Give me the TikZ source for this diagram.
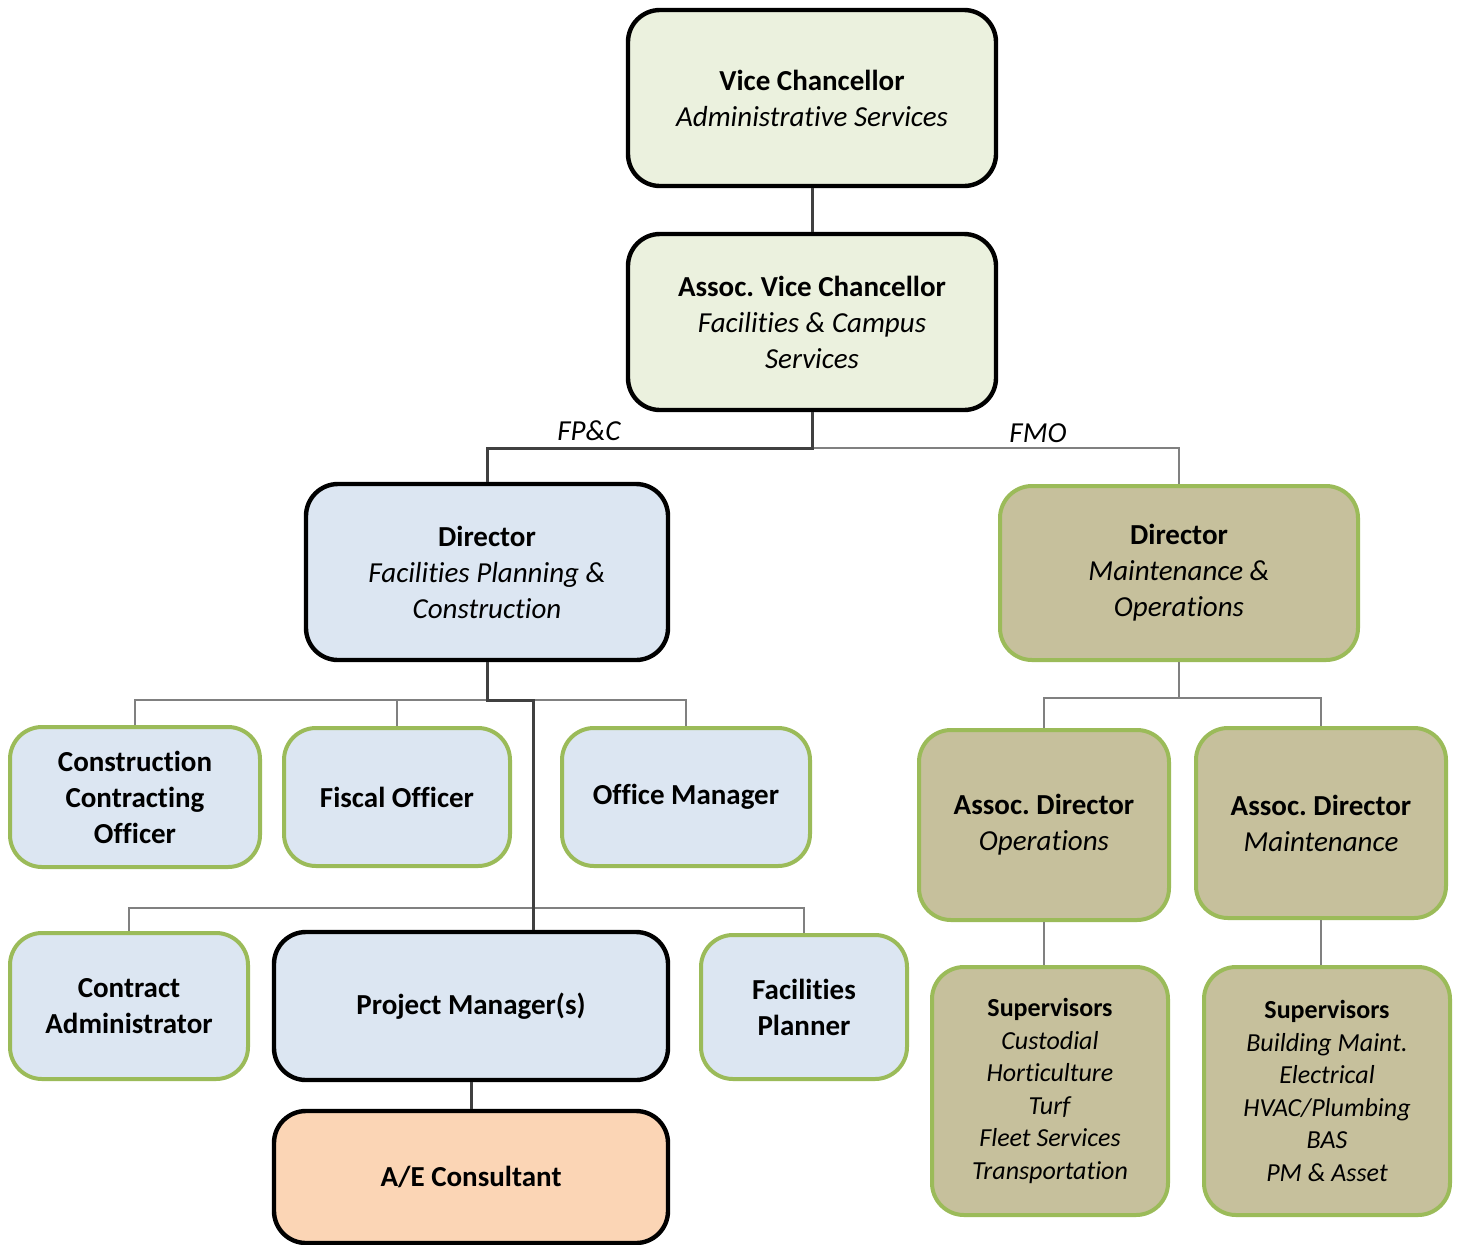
\documentclass[tikz,border=0pt]{standalone}
\usepackage{fontspec}
\setmainfont{Carlito}[RawFeature={-liga;-clig;-dlig;-calt}]
\usetikzlibrary{positioning, calc}
\frenchspacing

\definecolor{vcfill}{HTML}{EBF1DE}
\definecolor{fpcfill}{HTML}{DCE6F2}
\definecolor{fmofill}{HTML}{C6C09C}
\definecolor{aefill}{HTML}{FBD5B5}
\definecolor{greenline}{HTML}{9BBB59}
\definecolor{darkline}{HTML}{404040}
\definecolor{greyline}{HTML}{808080}

\begin{document}
\begin{tikzpicture}[
    x=0.5pt, y=-0.5pt,
    font=\fontsize{14.5}{18}\selectfont,
    % Style definitions
    box/.style={draw, rounded corners=16pt, align=center, inner sep=2pt},
    headbox/.style={box, line width=2.2pt, draw=black},
    greenbox/.style={box, line width=2pt, draw=greenline},
    topbox/.style={headbox, fill=vcfill, minimum width=184pt, minimum height=88pt},
    fpcbox/.style={headbox, fill=fpcfill},
    fmobox/.style={greenbox, fill=fmofill},
    staffbox/.style={greenbox, fill=fpcfill},
    consultbox/.style={headbox, fill=aefill},
    supbox/.style={fmobox, font=\fontsize{13}{16.3}\selectfont},
    mainline/.style={line width=1.5pt, darkline},
    subline/.style={line width=0.8pt, greyline},
    branch/.style={font=\fontsize{14.5}{18}\selectfont\itshape},
]
\useasboundingbox (0,0) rectangle (1463,1244);

%% ---------- TOP ----------
\node[topbox] (vc) at (812,98) {\textbf{Vice Chancellor}\\\textit{Administrative Services}};
\node[topbox] (avc) at (812,322) {\textbf{Assoc. Vice Chancellor}\\\textit{Facilities \& Campus}\\\textit{Services}};

%% ---------- DIRECTORS ----------
\node[fpcbox, minimum width=181pt, minimum height=88pt] (dirfpc) at (487,572) {\textbf{Director}\\\textit{Facilities Planning \&}\\\textit{Construction}};
\node[fmobox, minimum width=179pt, minimum height=87pt] (dirfmo) at (1179,573) {\textbf{Director}\\\textit{Maintenance \&}\\\textit{Operations}};

%% ---------- FP&C STAFF ----------
\node[staffbox, minimum width=125pt, minimum height=70pt] (cco) at (135,797) {\textbf{Construction}\\\textbf{Contracting}\\\textbf{Officer}};
\node[staffbox, minimum width=113pt, minimum height=69pt] (fiscal) at (397,797) {\textbf{Fiscal Officer}};
\node[staffbox, minimum width=124pt, minimum height=69pt] (office) at (686,797) {\textbf{Office Manager}};

\node[staffbox, minimum width=119pt, minimum height=73pt] (conadmin) at (129,1006) {\textbf{Contract}\\\textbf{Administrator}};
\node[fpcbox, minimum width=197pt, minimum height=74pt] (pm) at (471,1006) {\textbf{Project Manager(s)}};
\node[staffbox, minimum width=103pt, minimum height=72pt] (planner) at (804,1007) {\textbf{Facilities}\\\textbf{Planner}};
\node[consultbox, minimum width=197pt, minimum height=66pt] (ae) at (471,1177) {\textbf{A/E Consultant}};

%% ---------- FMO STAFF ----------
\node[fmobox, minimum width=125pt, minimum height=95pt] (adops) at (1044,825) {\textbf{Assoc. Director}\\\textit{Operations}};
\node[fmobox, minimum width=125pt, minimum height=95pt] (admaint) at (1321,823) {\textbf{Assoc. Director}\\\textit{Maintenance}};
\node[supbox, minimum width=118pt, minimum height=124pt] (supops) at (1050,1091) {\textbf{Supervisors}\\\textit{Custodial}\\\textit{Horticulture}\\\textit{Turf}\\\textit{Fleet Services}\\\textit{Transportation}};
\node[supbox, minimum width=123pt, minimum height=124pt] (supmaint) at (1327,1091) {\textbf{Supervisors}\\\textit{Building Maint.}\\\textit{Electrical}\\\textit{HVAC/Plumbing}\\\textit{BAS}\\\textit{PM \& Asset}};

%% ========== CONNECTORS ==========
\coordinate (forktop) at (812,448);
\coordinate (forkfpc) at (487,700);
\coordinate (forkpm) at (533,700);
\coordinate (forkrow) at (533,908);
\coordinate (forkfmo) at (1179,698);

% Top of the tree
\draw[mainline] (vc) -- (avc);
\draw[subline] (forktop) -| (dirfmo.north);
\draw[mainline] (avc.south) -- (forktop) -| (dirfpc.north);
\node[branch] (fpclabel) at (589,431) {FP\&C};
\node[branch] (fmolabel) at (1038,433) {FMO};

% FP&C staff
\draw[subline] (cco.north) |- (office.north |- forkfpc) -- (office.north);
\draw[subline] (fiscal.north) -- (fiscal.north |- forkfpc);
\draw[subline] (conadmin.north) |- (forkrow) -| (planner.north);
\draw[mainline] (dirfpc.south) -- (forkfpc) -- (forkpm) -- (forkpm |- pm.north);
\draw[mainline] (pm) -- (ae);

% FMO staff
\draw[subline] (dirfmo.south) -- (forkfmo);
\draw[subline] (adops.north) |- (forkfmo) -| (admaint.north);
\draw[subline] (adops.south) -- (adops.south |- supops.north);
\draw[subline] (admaint.south) -- (admaint.south |- supmaint.north);

\end{tikzpicture}
\end{document}
